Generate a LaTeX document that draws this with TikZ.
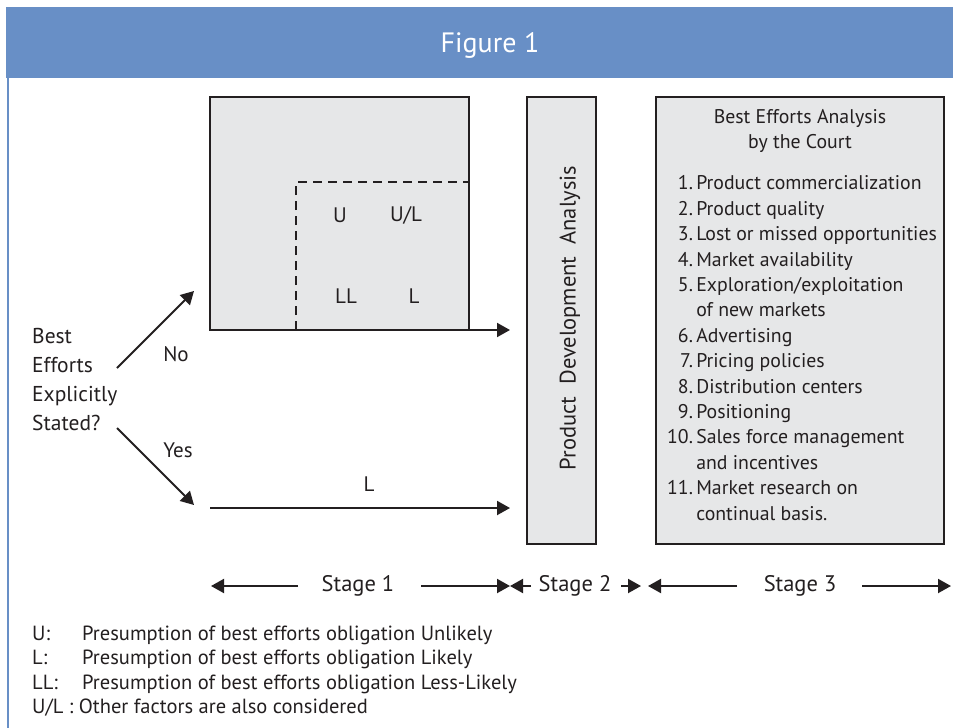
\documentclass[tikz,border=0pt]{standalone}
\usepackage{fontspec}
\setmainfont{PT Sans}
\usetikzlibrary{arrows.meta}
\definecolor{headblue}{RGB}{104,143,198}
\definecolor{boxgrey}{RGB}{230,231,232}
\definecolor{ink}{RGB}{35,31,32}
\tikzset{
  panel/.style={draw=ink, line width=2pt, fill=boxgrey, outer sep=0pt, inner sep=0pt},
  flow/.style={draw=ink, line width=2pt, -{Triangle[length=13pt,width=14pt]}},
  txt/.style={inner sep=0pt, text=ink, font=\fontsize{21}{25}\selectfont},
  smalltxt/.style={inner sep=0pt, text=ink, font=\fontsize{19.8}{25.4}\selectfont},
}
\begin{document}
\begin{tikzpicture}[x=1pt,y=-1pt]
\useasboundingbox (0,0) rectangle (953,728);
\fill[white] (0,0) rectangle (953,728);
% header band and left rule
\fill[headblue] (6,7) rectangle (953,78);
\draw[headblue, line width=2.5pt] (8,78) -- (8,728);
\node[inner sep=0pt, text=white, font=\fontsize{28}{32}\selectfont] (title) at (490,45) {Figure 1};

% stage 1 box with dashed region
\node[panel, minimum width=259pt, minimum height=233pt, anchor=north west] (s1) at (210,97) {};
\draw[ink, line width=2pt, dash pattern=on 9pt off 6pt] (296,330) -- (296,182) -- (469,182);
\node[txt] (u) at (340,215) {U};
\node[txt] (ul) at (406,215) {U/L};
\node[txt] (ll) at (346,296) {LL};
\node[txt] (l1) at (414,296) {L};

% stage 2 box
\node[panel, minimum width=69pt, minimum height=447pt, anchor=north west] (s2) at (527,97) {};
\node[txt, rotate=90, font=\fontsize{22.5}{26}\selectfont] (pda) at (570,318) {Product\ \ Development\ \ Analysis};

% stage 3 box
\node[panel, minimum width=288pt, minimum height=447pt, anchor=north west] (s3) at (656,97) {};
\node[smalltxt, align=center] (s3head) at (800,131) {Best Efforts Analysis\\by the Court};
\node[smalltxt, anchor=north west, align=left] (s3list) at (667,172) {%
\begin{tabular}{@{}r@{\,}l@{}}
1. & Product commercialization\\
2. & Product quality\\
3. & Lost or missed opportunities\\
4. & Market availability\\
5. & Exploration/exploitation\\
   & of new markets\\
6. & Advertising\\
7. & Pricing policies\\
8. & Distribution centers\\
9. & Positioning\\
10. & Sales force management\\
   & and incentives\\
11. & Market research on\\
   & continual basis.
\end{tabular}};

% decision
\node[txt, anchor=west, align=left, font=\fontsize{21.5}{29}\selectfont] (q) at (32,380) {Best\\Efforts\\Explicitly\\Stated?};
\coordinate (nofrom) at (117,368);
\coordinate (noto) at (194,291);
\coordinate (yesfrom) at (117,428);
\coordinate (yesto) at (194,505);
\draw[flow] (nofrom) -- (noto);
\draw[flow] (yesfrom) -- (yesto);
\node[txt] (no) at (176,354) {No};
\node[txt] (yes) at (178,450) {Yes};

% horizontal flows into stage 2
\coordinate (s1out) at (510,330);
\draw[flow] (s1.south east) -- (s1out);
\coordinate (lstart) at (210,508);
\coordinate (lend) at (510,508);
\draw[flow] (lstart) -- (lend);
\node[txt] (lyes) at (369,484) {L};

% stage scale
\node[txt, font=\fontsize{22.5}{26}\selectfont] (st1) at (358,586) {Stage 1};
\node[txt, font=\fontsize{22.5}{26}\selectfont] (st2) at (575,586) {Stage 2};
\node[txt, font=\fontsize{22.5}{26}\selectfont] (st3) at (800,586) {Stage 3};
\coordinate (a1) at (211,586); \coordinate (a1b) at (298,586);
\coordinate (a2) at (421,586); \coordinate (a2b) at (510,586);
\coordinate (a3) at (531,586); \coordinate (a3b) at (510,586);
\coordinate (a4) at (621,586); \coordinate (a4b) at (641,586);
\coordinate (a5) at (737,586); \coordinate (a5b) at (648,586);
\coordinate (a6) at (862,586); \coordinate (a6b) at (951,586);
\draw[flow] (a1b) -- (a1);
\draw[flow] (a2) -- (a2b);
\draw[flow] (a3) -- (a3b);
\draw[flow] (a4) -- (a4b);
\draw[flow] (a5) -- (a5b);
\draw[flow] (a6) -- (a6b);

% legend
\node[smalltxt, anchor=north west, align=left, font=\fontsize{20.5}{24.5}\selectfont] (legend) at (32,623) {%
\begin{tabular}{@{}p{50pt}@{}l@{}}
U: & Presumption of best efforts obligation Unlikely\\
L: & Presumption of best efforts obligation Likely\\
LL: & Presumption of best efforts obligation Less-Likely\\
\multicolumn{2}{@{}l@{}}{U/L : Other factors are also considered}
\end{tabular}};
\end{tikzpicture}
\end{document}
